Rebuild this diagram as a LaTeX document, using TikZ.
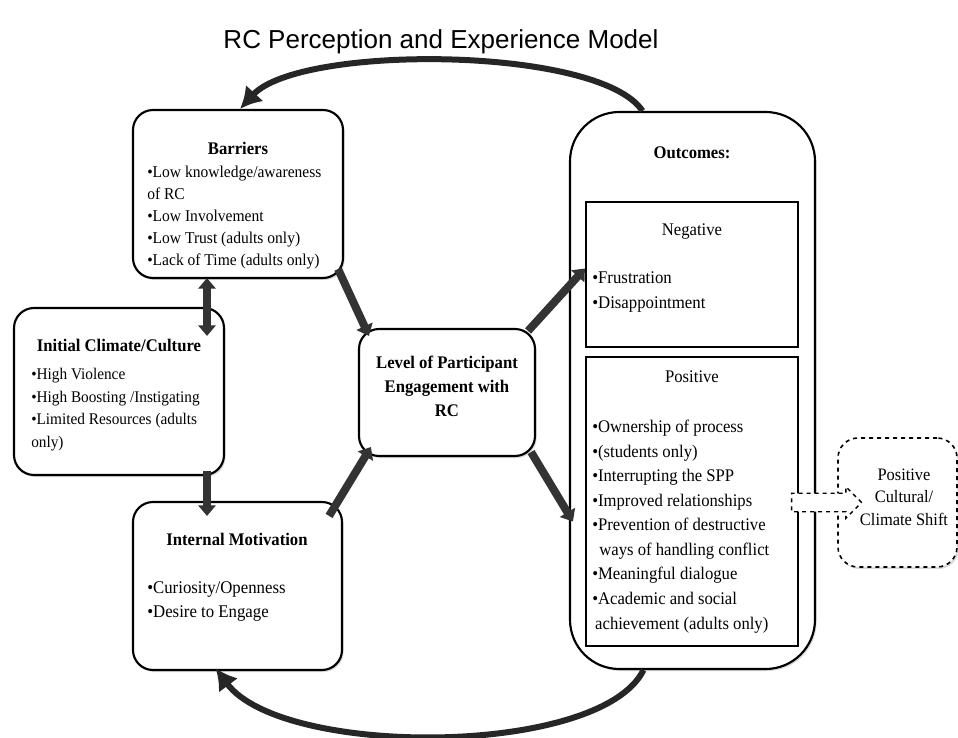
\documentclass[tikz,border=0pt]{standalone}
\usepackage{fontspec}
\setmainfont[FakeStretch=0.94]{Liberation Serif}
\newfontfamily\titlefont{Liberation Sans}
\usetikzlibrary{arrows.meta,shapes.arrows,shadows,calc}

\begin{document}
\begin{tikzpicture}[x=0.75pt,y=-0.75pt,
    box/.style={draw,line width=1.6pt,rounded corners=15pt,fill=white,
      drop shadow={opacity=0.3,shadow xshift=1.2pt,shadow yshift=-1.5pt}},
    subbox/.style={draw,line width=1.6pt,fill=white},
    heading/.style={font=\bfseries\fontsize{13.3}{18}\selectfont,align=center,inner sep=0pt},
    plainhead/.style={font=\fontsize{13.3}{17}\selectfont,inner sep=0pt},
    listtext/.style={anchor=north west,align=left,inner sep=0pt},
    bigarrow/.style={draw=black!80,line width=6pt,-{Triangle[length=8pt,width=13pt]}},
    looparrow/.style={draw=black!85,line width=4.5pt,-{Latex[length=16pt,width=18pt]}},
    hollowarrow/.style={single arrow,draw,dashed,line width=1pt,fill=white,
      minimum height=52.5pt,inner sep=6.4pt,single arrow head extend=4.9pt}]

   \useasboundingbox (0,0) rectangle (958,738);

   \node[font=\titlefont\fontsize{19.5}{23}\selectfont] (title) at (441,42) {RC Perception and Experience Model};

   % left column
   \node[box,minimum width=157.5pt,minimum height=126pt] (barriers) at (238,194) {};
   \node[heading] (barriershead) at (238,148) {Barriers};
   \node[listtext,font=\fontsize{12.4}{16.5}\selectfont] (barrierslist) at (147,166) {\textbullet Low knowledge/awareness\\of RC\\\textbullet Low Involvement\\\textbullet Low Trust (adults only)\\\textbullet Lack of Time (adults only)};

   \node[box,minimum width=157.5pt,minimum height=125.25pt] (climate) at (119,391.5) {};
   \node[heading] (climatehead) at (119,345) {Initial Climate/Culture};
   \node[listtext,font=\fontsize{12.2}{17}\selectfont] (climatelist) at (31,368) {\textbullet High Violence\\\textbullet High Boosting /Instigating\\\textbullet Limited Resources (adults\\only)};

   \node[box,minimum width=156.75pt,minimum height=126pt] (motivation) at (237.5,586) {};
   \node[heading] (motivationhead) at (237,539) {Internal Motivation};
   \node[listtext,font=\fontsize{13.4}{18}\selectfont] (motivationlist) at (147,581) {\textbullet Curiosity/Openness\\\textbullet Desire to Engage};

   % middle
   \node[box,minimum width=132pt,minimum height=95.25pt] (level) at (447,392.5) {};
   \node[heading] (levelhead) at (447,386) {Level of Participant\\Engagement with\\RC};

   % outcomes
   \node[box,rounded corners=37pt,minimum width=183.75pt,minimum height=417.75pt] (outcomes) at (692.5,390.5) {};
   \node[heading] (outcomeshead) at (692,153) {Outcomes:};
   \node[subbox,minimum width=159pt,minimum height=108.75pt] (negative) at (692,274.5) {};
   \node[plainhead] (negativehead) at (692,232) {Negative};
   \node[listtext,font=\fontsize{13.4}{18.75}\selectfont] (negativelist) at (592,271) {\textbullet Frustration\\\textbullet Disappointment};
   \node[subbox,minimum width=159pt,minimum height=216.75pt] (positive) at (692,501.5) {};
   \node[plainhead] (positivehead) at (692,377) {Positive};
   \node[listtext,font=\fontsize{13.3}{18.4}\selectfont] (positivelist) at (592,420) {\textbullet Ownership of process\\\textbullet (students only)\\\textbullet Interrupting the SPP\\\textbullet Improved relationships\\\textbullet Prevention of destructive\\\ \,ways of handling conflict\\\textbullet Meaningful dialogue\\\textbullet Academic and social\\\,achievement (adults only)};

   \node[box,dashed,line width=1.2pt,minimum width=89.25pt,minimum height=96.75pt] (shift) at (897.5,502.5) {};
   \node[plainhead,align=center,font=\fontsize{13.1}{16.9}\selectfont] (shifthead) at (904,497) {Positive\\Cultural/\\Climate Shift};

   % connectors
   \draw[bigarrow] ($(barriers.south east)+(-6,-10)$) -- ($(level.north west)+(11,8)$);
   \draw[bigarrow] ($(motivation.north east)+(-14,15)$) -- ($(level.south west)+(13,-10)$);
   \draw[bigarrow] ($(level.north east)+(-8,3)$) -- ($(negative.west)+(0,-6)$);
   \draw[bigarrow] ($(level.south east)+(-5,-5)$) -- ($(positive.west)+(-12,20)$);
   \draw[bigarrow,{Triangle[length=8pt,width=13pt]}-{Triangle[length=8pt,width=13pt]}] ($(barriers.south)+(-31,-1)$) -- ($(climate.north)+(88,29)$);
   \draw[bigarrow] ($(climate.south)+(88,-5)$) -- ($(motivation.north)+(-30.5,15)$);

   \node[hollowarrow] (shiftarrow) at (822,502.5) {};

   \draw[looparrow] ($(outcomes.north)+(-50,0)$) .. controls +(-43,-65) and +(60,-65) .. ($(barriers.north)+(2,0)$);
   \draw[looparrow] ($(outcomes.south)+(-49,0)$) .. controls +(-43,87) and +(67,90) .. ($(motivation.south)+(-22,-3)$);
\end{tikzpicture}
\end{document}
